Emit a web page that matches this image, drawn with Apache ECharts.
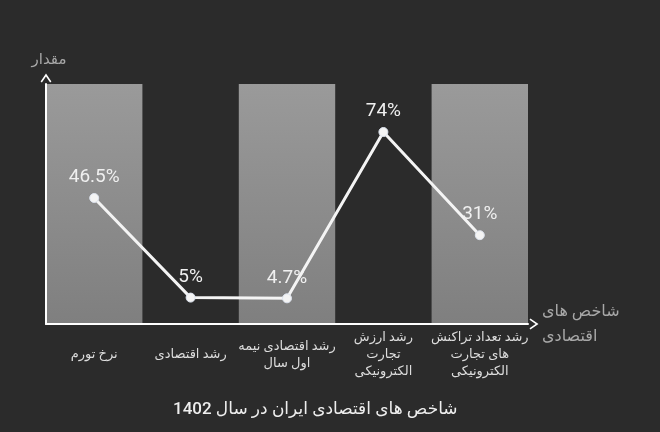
<!DOCTYPE html>
<html>
<head>
<meta charset="utf-8">
<script src="https://cdn.jsdelivr.net/npm/echarts@6/dist/echarts.min.js"></script>
<style>
  html, body { margin: 0; padding: 0; background: #2b2b2b; }
  #chart { width: 660px; height: 432px; }
</style>
</head>
<body>
<div id="chart"></div>
<script>
// categories (wrapped the way the picture shows them)
var categories = [
    'نرخ تورم',
    'رشد اقتصادی',
    'رشد اقتصادی نیمه\nاول سال',
    'رشد ارزش\nتجارت\nالکترونیکی',
    'رشد تعداد تراکنش\nهای تجارت\nالکترونیکی'
];
var values = [46.5, 5, 4.7, 74, 31];

var titleText = 'شاخص های اقتصادی ایران در سال 1402';
var xName = 'شاخص های\nاقتصادی';
var yName = 'مقدار';

// open chevron used for the axis arrows
var chevron = 'path://M0,9 L6,0 L12,9 L10.6,10 L6,3.2 L1.4,10 Z';

var chart = echarts.init(document.getElementById('chart'));

var bandColor = new echarts.graphic.LinearGradient(0, 0, 0, 1, [
    {offset: 0, color: '#9a9a9a'},
    {offset: 1, color: '#7f7f7f'}
]);

var option = {
    backgroundColor: '#2b2b2b',
    textStyle: {fontFamily: 'Roboto, "DejaVu Sans", sans-serif'},
    title: {
        text: titleText,
        left: 168,
        top: 396,
        textStyle: {color: '#eeeeee', fontSize: 17, fontWeight: 500}
    },
    grid: {left: 46, right: 132, top: 84, bottom: 108},
    xAxis: {
        type: 'category',
        data: categories,
        boundaryGap: true,
        name: xName,
        nameLocation: 'end',
        nameGap: 14,
        nameTextStyle: {color: '#a8a8a8', fontSize: 16, lineHeight: 25, align: 'left', verticalAlign: 'middle'},
        axisLine: {
            show: true,
            onZero: false,
            lineStyle: {color: '#ffffff', width: 2},
            symbol: ['none', chevron],
            symbolSize: [14, 9],
            symbolOffset: [0, 6]
        },
        axisTick: {show: false},
        axisLabel: {
            color: '#dddddd',
            fontSize: 13,
            lineHeight: 17,
            margin: 31,
            verticalAlign: 'middle',
            interval: 0
        },
        splitLine: {show: false},
        splitArea: {show: true, areaStyle: {color: [bandColor, 'rgba(0,0,0,0)']}}
    },
    yAxis: {
        type: 'value',
        min: -6,
        max: 94,
        name: yName,
        nameLocation: 'end',
        nameGap: 16,
        nameTextStyle: {color: '#a8a8a8', fontSize: 15, align: 'center', padding: [0, 0, 0, 6]},
        axisLine: {
            show: true,
            lineStyle: {color: '#ffffff', width: 2},
            symbol: ['none', chevron],
            symbolSize: [14, 9],
            symbolOffset: [0, 6]
        },
        axisTick: {show: false},
        axisLabel: {show: false},
        splitLine: {show: false}
    },
    series: [{
        type: 'line',
        data: values,
        symbol: 'circle',
        symbolSize: 9,
        lineStyle: {color: '#f4f4f4', width: 3},
        itemStyle: {color: '#f4f4f4', borderColor: '#dde3ee', borderWidth: 1},
        label: {
            show: true,
            position: 'top',
            distance: 6,
            color: '#f0f0f0',
            fontSize: 19,
            formatter: '{c}%'
        },
        z: 5
    }]
};

chart.setOption(option);
</script>
</body>
</html>
